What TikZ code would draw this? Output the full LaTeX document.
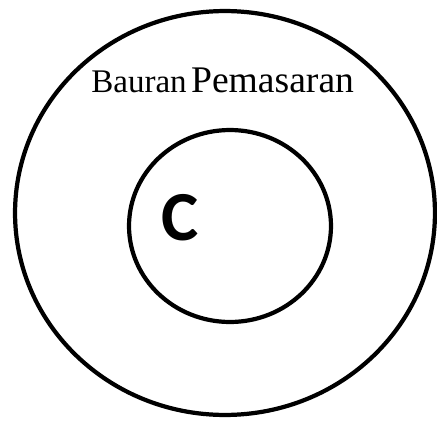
\documentclass[tikz,border=0pt]{standalone}
\usepackage{fontspec}
\setmainfont{Liberation Serif}
\newfontfamily\coresans{Carlito}
\usetikzlibrary{shapes.geometric}

\begin{document}
\begin{tikzpicture}[
  x=0.02cm, y=-0.02cm,
  ring/.style={draw=black, ellipse, line width=2.4pt, inner sep=0pt},
  mixlabel/.style={anchor=base west, inner sep=0pt},
  corelabel/.style={font=\coresans\bfseries\fontsize{40}{46}\selectfont, inner sep=0pt},
]
\useasboundingbox (0,0) rectangle (437,423);
% ---- rings
\node[ring, minimum width=8.4cm, minimum height=8.08cm] (outer) at (225,213) {};
\node[ring, minimum width=4.04cm, minimum height=3.84cm] (inner) at (230,226) {};

% ---- labels
\node[mixlabel] (mix) at (91,92)
  {{\fontsize{18.8}{22}\selectfont Bauran} {\fontsize{21.4}{25}\selectfont Pemasaran}};
\node[corelabel] (core) at (180.5,217.5) {C};
\end{tikzpicture}
\end{document}
